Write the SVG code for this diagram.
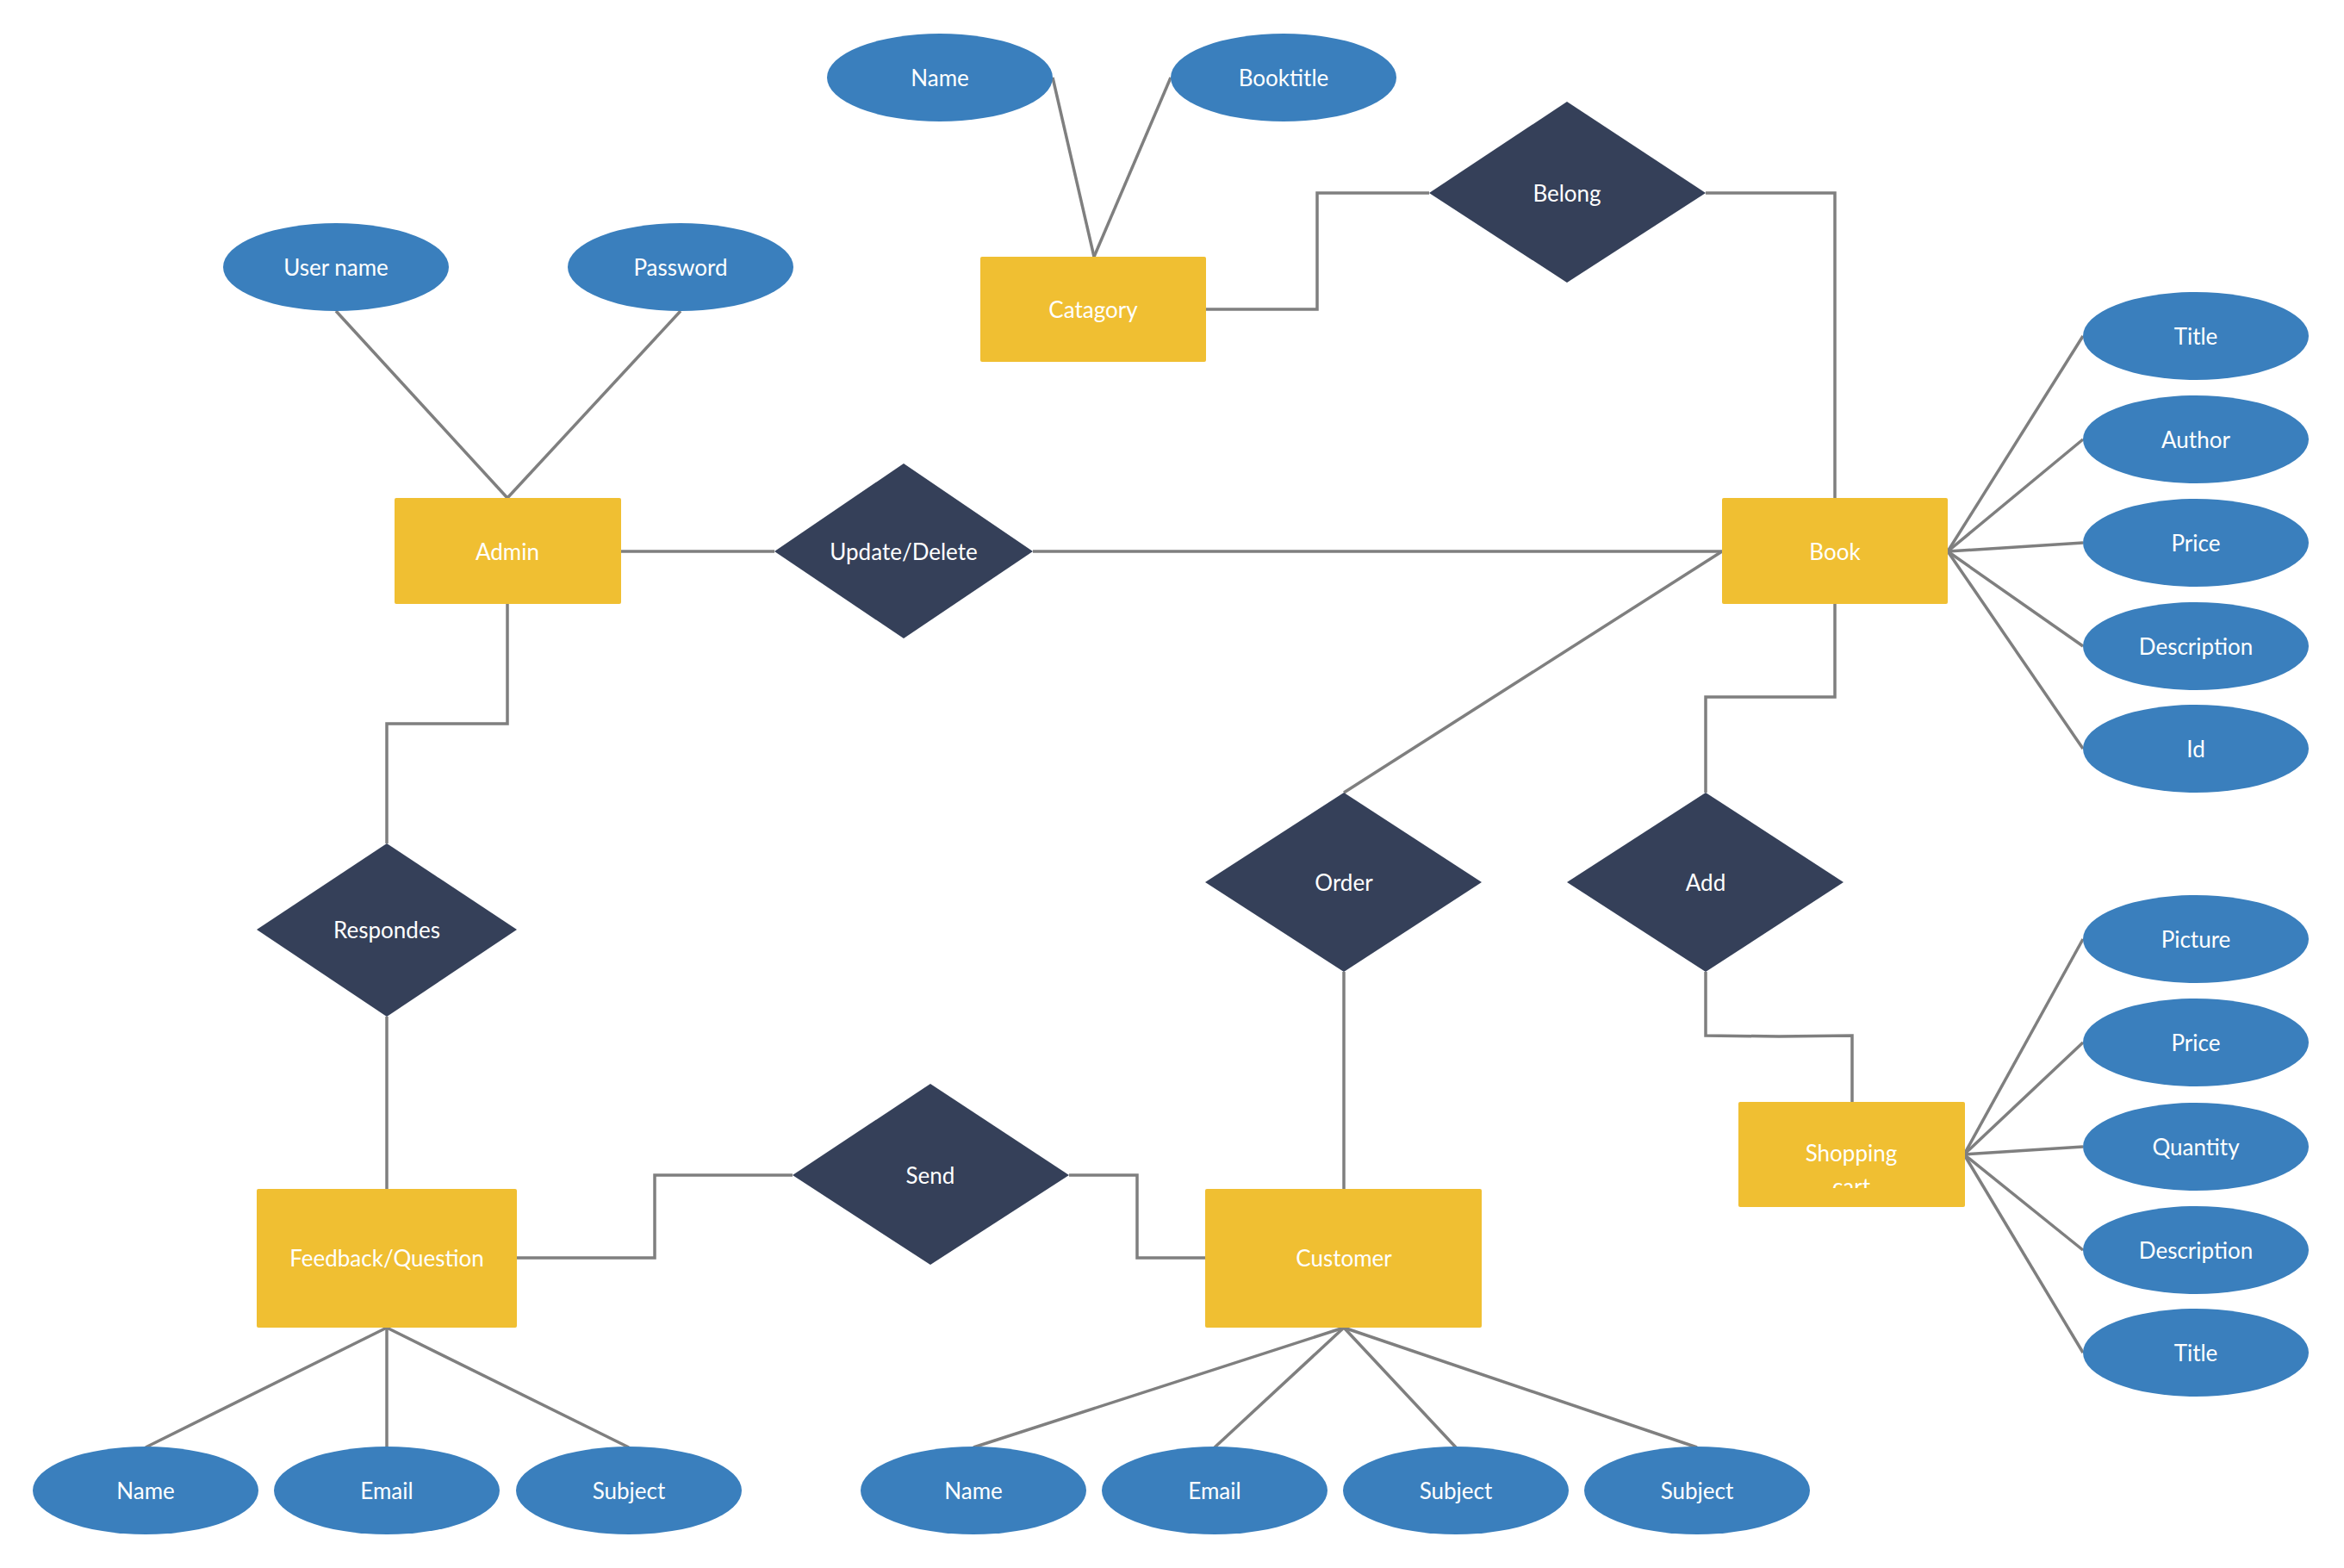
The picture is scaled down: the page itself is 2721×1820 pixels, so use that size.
<svg xmlns="http://www.w3.org/2000/svg" width="2721" height="1820" viewBox="0 0 2721 1820">
<style>
.attr{fill:#3A7FBD}
.ent{fill:#F0BF32}
.rel{fill:#354059}
.t{fill:#FFFFFF;font-family:Lato,"Liberation Sans",sans-serif;font-size:26px;text-anchor:middle;dominant-baseline:central}
.c{fill:none;stroke:#7F7F7F;stroke-width:3.5;stroke-linejoin:miter}
</style>
<defs>
<clipPath id="cartclip"><rect x="2018" y="1279" width="262" height="100"/></clipPath>
</defs>
<rect width="2721" height="1820" fill="#FFFFFF"/>
<g id="connectors">
<polyline class="c" points="1222,90 1270,298"/>
<polyline class="c" points="1359,90 1270,298"/>
<polyline class="c" points="1400,359 1529,359 1529,224 1659,224"/>
<polyline class="c" points="1980,224 2130,224 2130,578"/>
<polyline class="c" points="390,361 589,578"/>
<polyline class="c" points="790,361 589,578"/>
<polyline class="c" points="720,640 899,640"/>
<polyline class="c" points="1199,640 1999,640"/>
<polyline class="c" points="1999,640 1560,920"/>
<polyline class="c" points="2130,701 2130,809 1980,809 1980,920"/>
<polyline class="c" points="1980,1128 1980,1202 2065,1203 2150,1202 2150,1279"/>
<polyline class="c" points="1560,1128 1560,1380"/>
<polyline class="c" points="589,701 589,840 449,840 449,979"/>
<polyline class="c" points="449,1180 449,1380"/>
<polyline class="c" points="600,1460 760,1460 760,1364 920,1364"/>
<polyline class="c" points="1241,1364 1320,1364 1320,1460 1399,1460"/>
<polyline class="c" points="449,1541 169,1680"/>
<polyline class="c" points="449,1541 449,1680"/>
<polyline class="c" points="449,1541 730,1680"/>
<polyline class="c" points="1560,1541 1130,1680"/>
<polyline class="c" points="1560,1541 1410,1680"/>
<polyline class="c" points="1560,1541 1690,1680"/>
<polyline class="c" points="1560,1541 1970,1680"/>
<polyline class="c" points="2261,640 2418,390"/>
<polyline class="c" points="2261,640 2418,510"/>
<polyline class="c" points="2261,640 2418,630"/>
<polyline class="c" points="2261,640 2418,750"/>
<polyline class="c" points="2261,640 2418,869"/>
<polyline class="c" points="2280,1340 2418,1090"/>
<polyline class="c" points="2280,1340 2418,1210"/>
<polyline class="c" points="2280,1340 2418,1331"/>
<polyline class="c" points="2280,1340 2418,1451"/>
<polyline class="c" points="2280,1340 2418,1570"/>
</g>
<g id="cat-name"><ellipse class="attr" cx="1091" cy="90" rx="131" ry="51"/><text class="t" x="1091" y="90">Name</text></g>
<g id="cat-booktitle"><ellipse class="attr" cx="1490" cy="90" rx="131" ry="51"/><text class="t" x="1490" y="90">Booktitle</text></g>
<g id="catagory"><rect class="ent" x="1138" y="298" width="262" height="122" rx="2"/><text class="t" x="1269" y="359">Catagory</text></g>
<g id="belong"><polygon class="rel" points="1819,118 1980,224 1819,328 1659,224"/><text class="t" x="1819" y="224">Belong</text></g>
<g id="username"><ellipse class="attr" cx="390" cy="310" rx="131" ry="51"/><text class="t" x="390" y="310">User name</text></g>
<g id="password"><ellipse class="attr" cx="790" cy="310" rx="131" ry="51"/><text class="t" x="790" y="310">Password</text></g>
<g id="admin"><rect class="ent" x="458" y="578" width="263" height="123" rx="2"/><text class="t" x="589" y="640">Admin</text></g>
<g id="update-delete"><polygon class="rel" points="1049,538 1199,640 1049,741 899,640"/><text class="t" x="1049" y="640">Update/Delete</text></g>
<g id="book"><rect class="ent" x="1999" y="578" width="262" height="123" rx="2"/><text class="t" x="2130" y="640">Book</text></g>
<g id="book-title"><ellipse class="attr" cx="2549" cy="390" rx="131" ry="51"/><text class="t" x="2549" y="390">Title</text></g>
<g id="book-author"><ellipse class="attr" cx="2549" cy="510" rx="131" ry="51"/><text class="t" x="2549" y="510">Author</text></g>
<g id="book-price"><ellipse class="attr" cx="2549" cy="630" rx="131" ry="51"/><text class="t" x="2549" y="630">Price</text></g>
<g id="book-description"><ellipse class="attr" cx="2549" cy="750" rx="131" ry="51"/><text class="t" x="2549" y="750">Description</text></g>
<g id="book-id"><ellipse class="attr" cx="2549" cy="869" rx="131" ry="51"/><text class="t" x="2549" y="869">Id</text></g>
<g id="order"><polygon class="rel" points="1560,920 1720,1024 1560,1128 1399,1024"/><text class="t" x="1560" y="1024">Order</text></g>
<g id="add"><polygon class="rel" points="1980,920 2140,1024 1980,1128 1819,1024"/><text class="t" x="1980" y="1024">Add</text></g>
<g id="respondes"><polygon class="rel" points="449,979 600,1079 449,1180 298,1079"/><text class="t" x="449" y="1079">Respondes</text></g>
<g id="send"><polygon class="rel" points="1080,1258 1241,1364 1080,1468 920,1364"/><text class="t" x="1080" y="1364">Send</text></g>
<g id="shopping-cart"><rect class="ent" x="2018" y="1279" width="263" height="122" rx="2"/><g clip-path="url(#cartclip)"><text class="t" x="2149" y="1338">Shopping</text><text class="t" x="2149" y="1377">cart</text></g></g>
<g id="cart-picture"><ellipse class="attr" cx="2549" cy="1090" rx="131" ry="51"/><text class="t" x="2549" y="1090">Picture</text></g>
<g id="cart-price"><ellipse class="attr" cx="2549" cy="1210" rx="131" ry="51"/><text class="t" x="2549" y="1210">Price</text></g>
<g id="cart-quantity"><ellipse class="attr" cx="2549" cy="1331" rx="131" ry="51"/><text class="t" x="2549" y="1331">Quantity</text></g>
<g id="cart-description"><ellipse class="attr" cx="2549" cy="1451" rx="131" ry="51"/><text class="t" x="2549" y="1451">Description</text></g>
<g id="cart-title"><ellipse class="attr" cx="2549" cy="1570" rx="131" ry="51"/><text class="t" x="2549" y="1570">Title</text></g>
<g id="feedback"><rect class="ent" x="298" y="1380" width="302" height="161" rx="2"/><text class="t" x="449" y="1460">Feedback/Question</text></g>
<g id="customer"><rect class="ent" x="1399" y="1380" width="321" height="161" rx="2"/><text class="t" x="1560" y="1460">Customer</text></g>
<g id="fb-name"><ellipse class="attr" cx="169" cy="1730" rx="131" ry="51"/><text class="t" x="169" y="1730">Name</text></g>
<g id="fb-email"><ellipse class="attr" cx="449" cy="1730" rx="131" ry="51"/><text class="t" x="449" y="1730">Email</text></g>
<g id="fb-subject"><ellipse class="attr" cx="730" cy="1730" rx="131" ry="51"/><text class="t" x="730" y="1730">Subject</text></g>
<g id="cu-name"><ellipse class="attr" cx="1130" cy="1730" rx="131" ry="51"/><text class="t" x="1130" y="1730">Name</text></g>
<g id="cu-email"><ellipse class="attr" cx="1410" cy="1730" rx="131" ry="51"/><text class="t" x="1410" y="1730">Email</text></g>
<g id="cu-subject1"><ellipse class="attr" cx="1690" cy="1730" rx="131" ry="51"/><text class="t" x="1690" y="1730">Subject</text></g>
<g id="cu-subject2"><ellipse class="attr" cx="1970" cy="1730" rx="131" ry="51"/><text class="t" x="1970" y="1730">Subject</text></g>
</svg>
